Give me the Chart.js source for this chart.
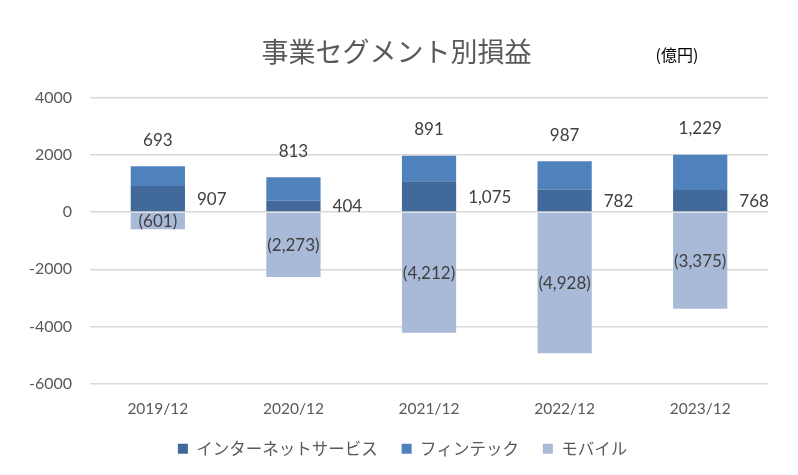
<!DOCTYPE html>
<html><head><meta charset="utf-8">
<script src="https://cdn.jsdelivr.net/npm/chart.js@4"></script>
<style>html,body{margin:0;padding:0;background:#fff}#wrap{width:798px;height:475px}</style>
</head><body><div id="wrap"><canvas id="c" width="798" height="475"></canvas></div>
<script>
const categories = ['2019/12','2020/12','2021/12','2022/12','2023/12'];
const internetServices = [907, 404, 1075, 782, 768];
const fintech = [693, 813, 891, 987, 1229];
const mobile = [-601, -2273, -4212, -4928, -3375];
const seriesNames = ['インターネットサービス','フィンテック','モバイル'];
const yTicks = [-6000, -4000, -2000, 0, 2000, 4000];

const NUM_FONT = "Lato, 'Noto Sans CJK JP', sans-serif";
const JP_FONT = "'Noto Sans CJK JP', sans-serif";
const TXT = '#595959';

function fmt(v){
  const s = Math.abs(v).toLocaleString('en-US');
  return v < 0 ? '(' + s + ')' : s;
}

const shiftPlugin = {
  id: 'shift',
  afterLayout(chart){
    const lg = chart.legend; lg.left += 13; lg.right += 13;
    const t = chart.titleBlock; if (t) { t.left += 7; t.right += 7; }
  }
};

const labelPlugin = {
  id: 'labels',
  afterDatasetsDraw(chart){
    const ctx = chart.ctx;
    ctx.save();
    ctx.font = '17px ' + NUM_FONT;
    ctx.fillStyle = '#404040';
    ctx.textBaseline = 'middle';
    const m0 = chart.getDatasetMeta(0), m1 = chart.getDatasetMeta(1), m2 = chart.getDatasetMeta(2);
    categories.forEach((c, i) => {
      const b0 = m0.data[i];
      ctx.textAlign = 'left';
      const r = b0.x + b0.width / 2;
      ctx.fillText(fmt(internetServices[i]), r + 12, (b0.y + b0.base) / 2 + 1);
      const b1 = m1.data[i];
      ctx.textAlign = 'center';
      ctx.fillText(fmt(fintech[i]), b1.x, b1.y - 26);
      const b2 = m2.data[i];
      ctx.fillText(fmt(mobile[i]), b2.x, (b2.y + b2.base) / 2 + 1);
    });
    ctx.font = '16px ' + JP_FONT;
    ctx.fillStyle = '#000';
    ctx.textAlign = 'center';
    ctx.fillText('(億円)', 677, 55);
    ctx.restore();
  }
};

new Chart(document.getElementById('c'), {
  type: 'bar',
  data: {
    labels: categories,
    datasets: [
      {label: seriesNames[0], data: internetServices, backgroundColor: '#41699A', stack: 's'},
      {label: seriesNames[1], data: fintech, backgroundColor: '#4F81BD', stack: 's'},
      {label: seriesNames[2], data: mobile, backgroundColor: '#A9BAD8', stack: 's'}
    ]
  },
  options: {
    responsive: false,
    animation: false,
    devicePixelRatio: 1,
    barPercentage: 0.8,
    categoryPercentage: 0.5,
    layout: {padding: {left: 11, right: 30, top: 0, bottom: 8}},
    plugins: {
      title: {display: true, text: '事業セグメント別損益', color: TXT,
        font: {family: JP_FONT, size: 27, weight: 'normal'}, padding: {top: 36, bottom: 29}},
      legend: {position: 'bottom', labels: {color: TXT, boxWidth: 10, boxHeight: 10, padding: 24,
        font: {family: JP_FONT, size: 16.5}}},
      tooltip: {enabled: false}
    },
    scales: {
      x: {stacked: true, grid: {display: false}, border: {display: false},
        afterFit(s){ s.height -= 10; },
        ticks: {color: TXT, font: {family: NUM_FONT, size: 15.5}, padding: 8}},
      y: {stacked: true, min: -6000, max: 4000,
        afterBuildTicks(s){ s.ticks = yTicks.map(v => ({value: v})); },
        grid: {color: '#D9D9D9', lineWidth: 1.5, drawTicks: false}, border: {display: false},
        ticks: {color: TXT, font: {family: NUM_FONT, size: 16}, padding: 18, callback: v => String(v)}}
    }
  },
  plugins: [shiftPlugin, labelPlugin]
});
</script></body></html>
